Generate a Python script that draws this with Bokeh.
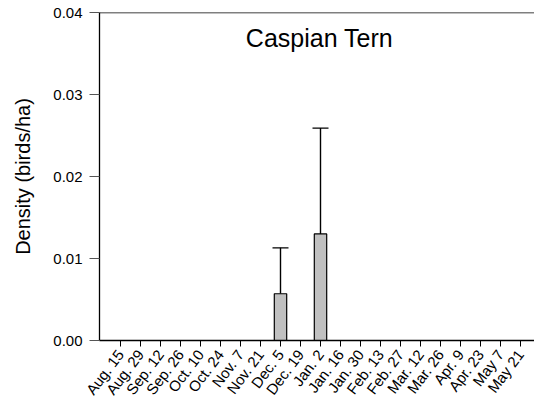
import math
from bokeh.plotting import figure
from bokeh.models import (ColumnDataSource, FixedTicker, Span, Whisker, TeeHead,
                          Label, Range1d, NumeralTickFormatter)
from bokeh.embed import file_html
from bokeh.resources import INLINE

dates = ["Aug. 15", "Aug. 29", "Sep. 12", "Sep. 26", "Oct. 10", "Oct. 24",
         "Nov. 7", "Nov. 21", "Dec. 5", "Dec. 19", "Jan. 2", "Jan. 16",
         "Jan. 30", "Feb. 13", "Feb. 27", "Mar. 12", "Mar. 26", "Apr. 9",
         "Apr. 23", "May 7", "May 21"]
density = [0, 0, 0, 0, 0, 0, 0, 0, 0.0057, 0, 0.0130, 0, 0, 0, 0, 0, 0, 0, 0, 0, 0]
err_upper = [0, 0, 0, 0, 0, 0, 0, 0, 0.0113, 0, 0.0259, 0, 0, 0, 0, 0, 0, 0, 0, 0, 0]
y_ticks = [0.0, 0.01, 0.02, 0.03, 0.04]
title_text = "Caspian Tern"
y_label = "Density (birds/ha)"

FONT = "Liberation Sans"

xs = list(range(len(dates)))
nz = [i for i, v in enumerate(density) if v > 0]
src = ColumnDataSource(dict(x=xs, top=density))
err_src = ColumnDataSource(dict(x=[xs[i] for i in nz],
                                lower=[density[i] for i in nz],
                                upper=[err_upper[i] for i in nz]))

p = figure(frame_width=435, frame_height=328, output_backend="svg",
           toolbar_location=None, min_border_left=99, min_border_top=12,
           min_border_right=0, min_border_bottom=10,
           x_range=Range1d(-1.05, 20.7), y_range=Range1d(0, 0.04))
p.outline_line_color = None
p.grid.grid_line_color = None
p.background_fill_color = "white"
p.border_fill_color = "white"

p.vbar(x="x", top="top", bottom=0, width=0.62, source=src,
       fill_color="#c0c0c0", line_color="black", line_width=1.2)

w = Whisker(base="x", lower="lower", upper="upper", source=err_src,
            line_color="black", line_width=1.4,
            upper_head=TeeHead(size=16, line_color="black", line_width=1.4),
            lower_head=None)
p.add_layout(w)

p.add_layout(Span(location=0.04, dimension="width", line_color="black", line_width=1.3))

# y axis
ya = p.yaxis[0]
ya.ticker = FixedTicker(ticks=y_ticks)
ya.formatter = NumeralTickFormatter(format="0.00")
ya.minor_tick_line_color = None
ya.major_tick_in = 0
ya.major_tick_out = 10
ya.major_tick_line_color = "#555555"
ya.axis_line_color = "black"
ya.axis_line_width = 1.3
ya.major_label_text_font = FONT
ya.major_label_text_font_size = "15px"
ya.major_label_text_color = "black"
ya.major_label_standoff = 7
ya.axis_label = y_label
ya.axis_label_text_font = FONT
ya.axis_label_text_font_size = "20px"
ya.axis_label_text_font_style = "normal"
ya.axis_label_text_color = "black"
ya.axis_label_standoff = 16

# x axis
xa = p.xaxis[0]
xa.ticker = FixedTicker(ticks=xs)
xa.major_label_overrides = {i: d for i, d in enumerate(dates)}
xa.minor_tick_line_color = None
xa.major_tick_in = 0
xa.major_tick_out = 6
xa.major_tick_line_color = "black"
xa.axis_line_color = "black"
xa.axis_line_width = 1.3
xa.major_label_orientation = math.radians(53)
xa.major_label_text_font = FONT
xa.major_label_text_font_size = "15px"
xa.major_label_text_color = "black"
xa.major_label_standoff = 5

p.add_layout(Label(x=220, y=303, x_units="screen", y_units="screen",
                   text=title_text, text_font=FONT, text_font_size="25px",
                   text_align="center", text_baseline="middle", text_color="black"))

open("out.html", "w").write(file_html(p, INLINE))
